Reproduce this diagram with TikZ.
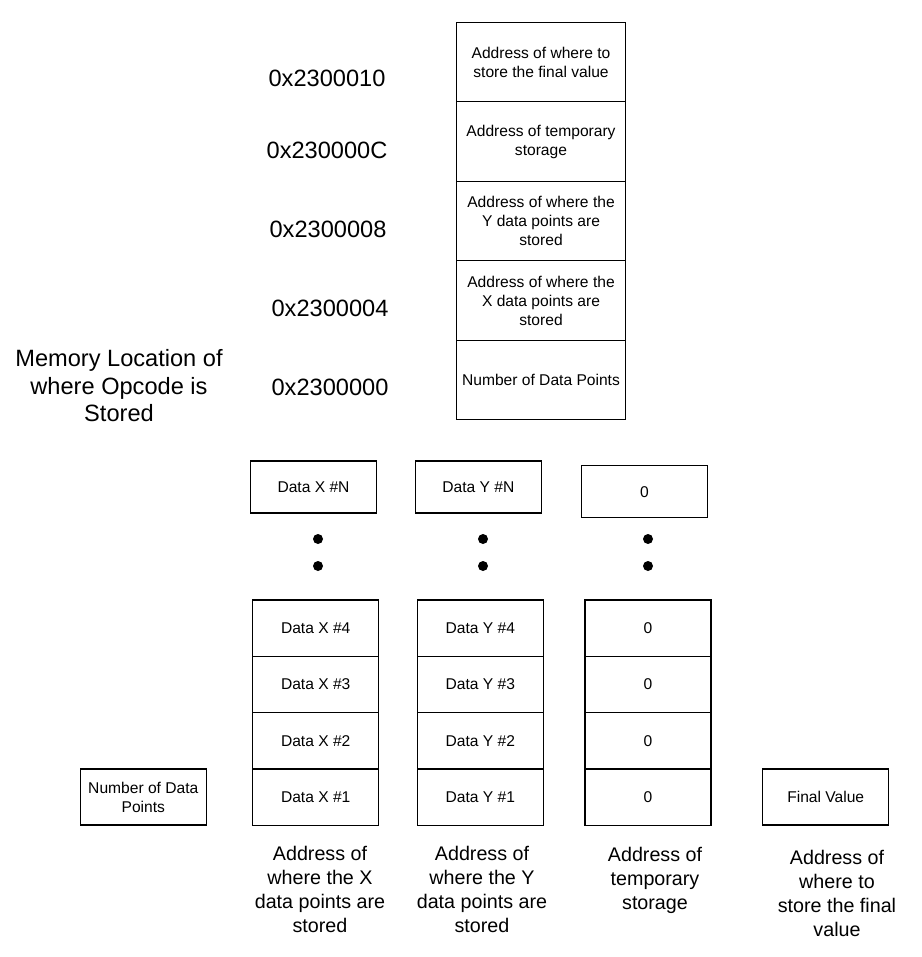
\documentclass[tikz,border=0pt]{standalone}
\usepackage{fontspec}
\setmainfont{Liberation Sans}
\usetikzlibrary{positioning}

\begin{document}
\begin{tikzpicture}[x=1pt, y=-1pt,
	box/.style={draw, line width=1.4pt, outer sep=0pt, inner sep=2pt, align=center, font=\fontsize{15.6}{19}\selectfont},
	topcell/.style={box, minimum width=169pt, minimum height=79.5pt},
	cell/.style={box, minimum width=126pt, minimum height=56.3pt},
	nbox/.style={box, minimum width=126pt, minimum height=52pt},
	addr/.style={font=\fontsize{23.6}{27.5}\selectfont, align=center},
	caption/.style={font=\fontsize{19.7}{24}\selectfont, align=center}]
	\useasboundingbox (0,0) rectangle (921,957);
	
	% memory map of the opcode
	\node[topcell] (m10) at (541,62) {Address of where to\\store the final value};
	\node[topcell, below=0pt of m10] (m0C) {Address of temporary\\storage};
	\node[topcell, below=0pt of m0C] (m08) {Address of where the\\Y data points are\\stored};
	\node[topcell, below=0pt of m08] (m04) {Address of where the\\X data points are\\stored};
	\node[topcell, below=0pt of m04] (m00) {Number of Data Points};
	
	\node[addr] (a10) at (327,78) {0x2300010};
	\node[addr] (a0C) at (327,150) {0x230000C};
	\node[addr] (a08) at (328,229) {0x2300008};
	\node[addr] (a04) at (330,308) {0x2300004};
	\node[addr] (a00) at (330,387) {0x2300000};
	\node[addr] (memloc) at (119,386) {Memory Location of\\where Opcode is\\Stored};
	
	% X data
	\node[nbox] (xN) at (313.5,487) {Data X \#N};
	\node[cell] (x4) at (315.7,628.2) {Data X \#4};
	\node[cell, below=0pt of x4] (x3) {Data X \#3};
	\node[cell, below=0pt of x3] (x2) {Data X \#2};
	\node[cell, below=0pt of x2] (x1) {Data X \#1};
	
	% Y data
	\node[nbox] (yN) at (478.3,487) {Data Y \#N};
	\node[cell] (y4) at (480.3,628.2) {Data Y \#4};
	\node[cell, below=0pt of y4] (y3) {Data Y \#3};
	\node[cell, below=0pt of y3] (y2) {Data Y \#2};
	\node[cell, below=0pt of y2] (y1) {Data Y \#1};
	
	% temporary storage
	\node[nbox] (tN) at (644.5,491.7) {0};
	\node[cell] (t4) at (648,628.2) {0};
	\node[cell, below=0pt of t4] (t3) {0};
	\node[cell, below=0pt of t3] (t2) {0};
	\node[cell, below=0pt of t2] (t1) {0};
	
	\node[cell] (ndp) at (143.3,797) {Number of Data\\Points};
	\node[cell] (final) at (825.7,797) {Final Value};
	
	\foreach \x in {318,483,648}
		\foreach \y in {539,566}
			\fill (\x,\y) circle (5pt);
	
	\node[caption] (xlbl) at (320,889) {Address of\\where the X\\data points are\\stored};
	\node[caption] (ylbl) at (482,889) {Address of\\where the Y\\data points are\\stored};
	\node[caption] (tlbl) at (655,880) {Address of\\temporary\\storage};
	\node[caption] (flbl) at (837,893.5) {Address of\\where to\\store the final\\value};
\end{tikzpicture}
\end{document}
